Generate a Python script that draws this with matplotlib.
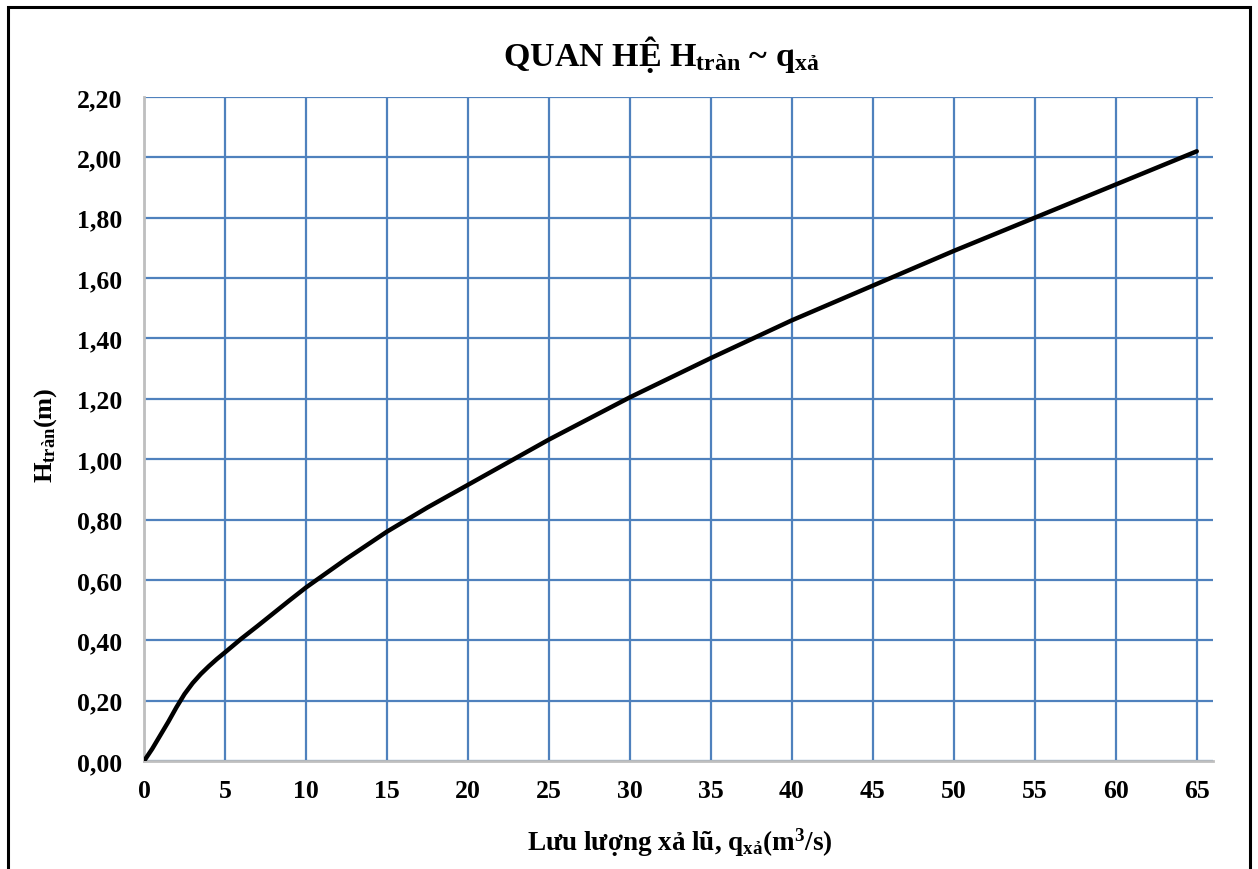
import matplotlib.pyplot as plt
from matplotlib.patches import Rectangle
from matplotlib.ticker import FuncFormatter

# luu luong xa (m3/s) va cot nuoc tran (m), doc tu do thi
q_xa = [0, 0.5, 1, 1.5, 2, 2.5, 3, 3.5, 4, 4.5, 5, 6, 7, 8, 9, 10, 12.5, 15,
        17.5, 20, 22.5, 25, 27.5, 30, 35, 40, 45, 50, 55, 60, 65]
h_tran = [0.0, 0.04, 0.085, 0.13, 0.178, 0.222, 0.258, 0.288, 0.314, 0.338,
          0.36, 0.405, 0.447, 0.49, 0.533, 0.575, 0.67, 0.76, 0.84, 0.915,
          0.99, 1.065, 1.135, 1.205, 1.335, 1.46, 1.575, 1.69, 1.80, 1.91, 2.02]

x_ticks = list(range(0, 66, 5))
y_ticks = [0.0, 0.2, 0.4, 0.6, 0.8, 1.0, 1.2, 1.4, 1.6, 1.8, 2.0, 2.2]

plt.rcParams['font.family'] = ['Liberation Serif', 'DejaVu Serif']
plt.rcParams['font.weight'] = 'bold'
plt.rcParams['mathtext.default'] = 'regular'

fig = plt.figure(figsize=(12.58, 8.7), dpi=100)
ax = fig.add_axes([0.1145, 0.1241, 0.9642 - 0.1145, 0.8874 - 0.1241])

grid_blue = '#4F81BD'
ax.plot(q_xa, h_tran, color='black', lw=3.2, solid_capstyle='round',
        solid_joinstyle='round', zorder=3)

ax.set_xlim(0, 66)
ax.set_ylim(0, 2.2)
ax.set_xticks(x_ticks)
ax.set_yticks(y_ticks)
ax.yaxis.set_major_formatter(FuncFormatter(lambda v, p: f'{v:.2f}'.replace('.', ',')))
ax.grid(True, color=grid_blue, lw=1.6)
ax.set_axisbelow(True)
ax.tick_params(length=0, labelsize=18.5)
ax.tick_params(axis='y', pad=15.5)
ax.tick_params(axis='x', pad=13)
for s in ['top', 'right']:
    ax.spines[s].set_visible(False)
for s in ['left', 'bottom']:
    ax.spines[s].set_color('#BFBFBF')
    ax.spines[s].set_linewidth(2)
    ax.spines[s].set_zorder(2)

fig.text(0.526, 0.937, 'QUAN HỆ $H_{tràn}$ ~ $q_{xả}$', ha='center', va='center',
         fontsize=24.5, fontweight='bold')
fig.text(0.54, 0.031, 'Lưu lượng xả lũ, $q_{xả}(m^3/s)$', ha='center', va='center',
         fontsize=19.5, fontweight='bold')
fig.text(0.036, 0.5, '$H_{tràn}(m)$', ha='center', va='center', rotation=90,
         fontsize=19, fontweight='bold')

fig.patches.append(Rectangle((8 / 1258, -0.05), 1242 / 1258, 1.05 - 8 / 870,
                             transform=fig.transFigure, fill=False,
                             edgecolor='black', lw=2.2))

fig.savefig('out.png', dpi=100)
